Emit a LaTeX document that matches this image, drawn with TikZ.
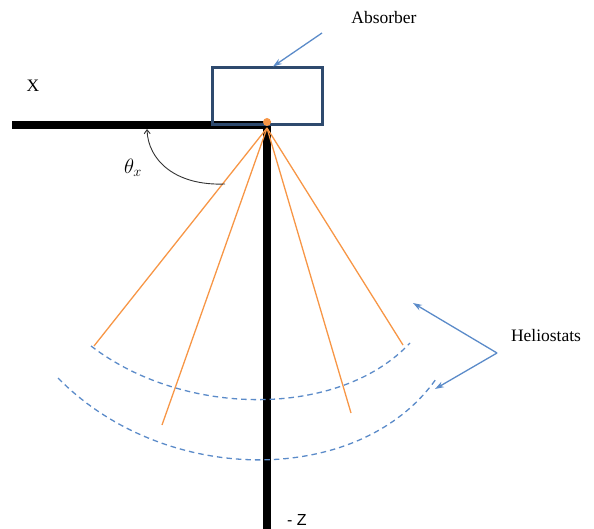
\documentclass[tikz,border=0pt]{standalone}
\usepackage{fontspec}
\setmainfont{Liberation Serif}
\newfontfamily\axisfont{Liberation Sans}
\usetikzlibrary{positioning,arrows.meta}
\definecolor{rayorange}{HTML}{F79646}
\definecolor{helioblue}{HTML}{5B8BC9}
\definecolor{absblue}{HTML}{2E4A6E}

\begin{document}
\begin{tikzpicture}[x=1pt, y=-1pt,
  lab/.style={font=\fontsize{17.5}{20}\selectfont, inner sep=0pt},
  bar/.style={line width=7.5pt, black},
  ray/.style={rayorange, line width=1.3pt},
  helio/.style={helioblue, line width=1.3pt, dash pattern=on 5.5pt off 4pt},
  pointer/.style={helioblue, line width=1.3pt, -{Stealth[length=9pt, width=6pt]}},
  absbox/.style={draw=absblue, line width=3pt, minimum width=110pt, minimum height=57pt, inner sep=0pt}
]
\useasboundingbox (0,0) rectangle (594,529);
% ----- axes -----
\coordinate (xend) at (12,125);
\coordinate (zend) at (267,535);
\coordinate (focus) at (267,125);
\draw[bar] (xend) -- ([xshift=3.75pt]focus);
\draw[bar] ([yshift=3.75pt]focus) -- (zend);
\node[lab] (xlab) at (33,86) {X};
\node[lab, font=\axisfont\fontsize{16}{19}\selectfont] (zlab) at (297,520) {- Z};
% ----- absorber -----
\node[absbox] (absorber) at (267,96.5) {};
\node[lab] (abslab) at (384,18) {Absorber};
\coordinate (absfrom) at (322,33);
\draw[pointer] (absfrom) -- (absorber.north -| 273,0);
% ----- heliostat points and rays -----
\coordinate (h1) at (94,346);
\coordinate (h2) at (162,425);
\coordinate (h3) at (351,413);
\coordinate (h4) at (403,345);
\foreach \h in {h1,h2,h3,h4}{\draw[ray] (focus) ++(0,3) -- (\h);}
\fill[rayorange] ([yshift=3pt]focus) circle (4pt);
% ----- heliostat fields -----
\draw[helio] (91,346) .. controls (185,418) and (340,418) .. (410,343);
\draw[helio] (58,378) .. controls (165,487) and (360,487) .. (436,379);
\node[lab] (heliolab) at (546,336) {Heliostats};
\coordinate (hfrom) at (497,353);
\coordinate (hin) at (413,303);
\coordinate (hout) at (435,389);
\draw[pointer] (hfrom) -- (hin);
\draw[pointer] (hfrom) -- (hout);
% ----- angle -----
\coordinate (angfrom) at (225,184);
\coordinate (angto) at (147,129);
\draw[black!80, line width=0.9pt, -{Straight Barb[length=4pt, width=6pt]}]
  (angfrom) .. controls (175,186) and (148,160) .. (angto);
\node[lab, font=\fontsize{20}{22}\selectfont] (anglab) at (133,168) {$\theta_x$};
\end{tikzpicture}
\end{document}
